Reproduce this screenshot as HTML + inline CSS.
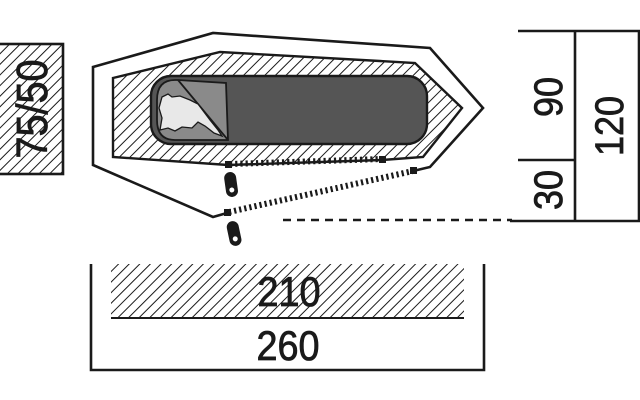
<!DOCTYPE html>
<html><head><meta charset="utf-8"><style>
html,body{margin:0;padding:0;background:#fff;}
svg{display:block}
text{font-family:"Liberation Sans","DejaVu Sans",sans-serif;fill:#1a1a1a;stroke:#1a1a1a;stroke-width:0.8}
</style></head><body>
<svg width="640" height="400" viewBox="0 0 640 400" xmlns="http://www.w3.org/2000/svg">
<defs>
<pattern id="h" width="7.5" height="7.5" patternUnits="userSpaceOnUse" patternTransform="rotate(45)">
<rect width="8" height="8" fill="#fff"/>
<line x1="0" y1="0" x2="0" y2="8" stroke="#1a1a1a" stroke-width="2"/>
</pattern>
</defs>
<!-- left box -->
<rect x="-2" y="44" width="65" height="130" fill="url(#h)" stroke="#1a1a1a" stroke-width="2.6"/>
<text x="0" y="0" font-size="44" text-anchor="middle" transform="translate(47,109) rotate(-90) scale(0.9,1)">75/50</text>

<!-- outer tent -->
<polyline points="413,171 430,167 483,108 430,48 213,33 93,67 93,165 213,217 227,213" fill="none" stroke="#1a1a1a" stroke-width="2.6"/>
<!-- inner hatched -->
<polygon points="113,78 220,52 415,63 462,108 423,157 382,160 228,165 113,157" fill="url(#h)" stroke="#1a1a1a" stroke-width="2.4"/>
<!-- bag -->
<rect x="151" y="76" width="276" height="68" rx="20" fill="#555" stroke="#1a1a1a" stroke-width="2.4"/>
<path d="M178,80 L226,83 L228,140 L175,140 Q157,140 157,120 L157,100 Q157,80 175,80 Z" fill="#8a8a8a" stroke="#1a1a1a" stroke-width="1.8"/>
<line x1="178" y1="80" x2="228" y2="140" stroke="#1a1a1a" stroke-width="1.8"/>
<path d="M162,97 L168,94 L172,97 L180,96 L190,100 L198,104 L204,112 L210,120 L218,130 L222,136 L214,133 L205,126 L198,122 L192,128 L182,127 L175,131 L168,128 L160,130 L162,118 L159,108 Z" fill="#e8e8e8" stroke="#1a1a1a" stroke-width="1.3"/>

<!-- zippers -->
<line x1="230" y1="164" x2="382" y2="159" stroke="#1a1a1a" stroke-width="6" stroke-dasharray="2.2 3"/>
<line x1="229" y1="212" x2="413" y2="171" stroke="#1a1a1a" stroke-width="6" stroke-dasharray="2.2 3"/>
<rect x="225" y="161" width="7" height="7" fill="#1a1a1a"/>
<rect x="379" y="156" width="7" height="7" fill="#1a1a1a"/>
<rect x="224" y="209" width="7" height="7" fill="#1a1a1a"/>
<rect x="410" y="167" width="7" height="7" fill="#1a1a1a"/>
<!-- pegs -->
<g transform="rotate(-8 231 184)"><rect x="225" y="172" width="12" height="25" rx="6" fill="#1a1a1a"/><circle cx="231" cy="190" r="2.5" fill="#fff"/></g>
<g transform="rotate(-12 234 233)"><rect x="228" y="221" width="12" height="25" rx="6" fill="#1a1a1a"/><circle cx="234" cy="239" r="2.5" fill="#fff"/></g>

<!-- dashed -->
<line x1="283" y1="220" x2="512" y2="220" stroke="#1a1a1a" stroke-width="2.4" stroke-dasharray="8 6"/>

<!-- right dims -->
<g stroke="#1a1a1a" stroke-width="2.6" fill="none">
<line x1="518" y1="31" x2="640" y2="31"/>
<line x1="575" y1="31" x2="575" y2="221"/>
<line x1="639" y1="31" x2="639" y2="221"/>
<line x1="518" y1="160" x2="575" y2="160"/>
<line x1="510" y1="221" x2="640" y2="221"/>
</g>
<text font-size="40" text-anchor="middle" transform="translate(562,97) rotate(-90) scale(0.9,1)">90</text>
<text font-size="40" text-anchor="middle" transform="translate(562,190) rotate(-90) scale(0.9,1)">30</text>
<text font-size="40" text-anchor="middle" transform="translate(623,126) rotate(-90) scale(0.9,1)">120</text>

<!-- bottom dims -->
<rect x="111" y="264" width="353" height="54" fill="url(#h)" stroke="none"/>
<line x1="111" y1="318" x2="464" y2="318" stroke="#1a1a1a" stroke-width="2"/>
<polyline points="91,264 91,370 484,370 484,264" fill="none" stroke="#1a1a1a" stroke-width="2.6"/>
<text font-size="42" text-anchor="middle" transform="translate(289,306) scale(0.9,1)">210</text>
<text font-size="42" text-anchor="middle" transform="translate(288,360) scale(0.9,1)">260</text>
</svg>
</body></html>
